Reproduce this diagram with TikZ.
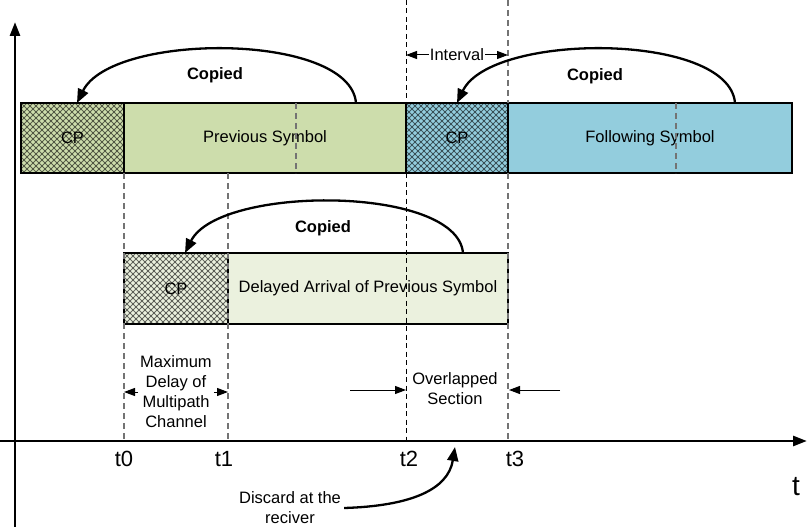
\documentclass[tikz,border=0pt]{standalone}
\usepackage{fontspec}
\setmainfont{Liberation Sans}
\usetikzlibrary{arrows.meta}
\definecolor{prevgreen}{RGB}{205,221,172}
\definecolor{follblue}{RGB}{147,205,221}
\definecolor{delaygreen}{RGB}{235,241,222}
\begin{document}
\begin{tikzpicture}[x=1pt,y=-1pt,
  every node/.style={font=\fontsize{16.5}{20}\selectfont, inner sep=1pt},
  symbox/.style={draw=black, line width=2.9pt, minimum height=70pt, inner sep=0pt, outer sep=0pt},
  hatchline/.style={draw=black, draw opacity=0.55, line width=0.9pt},
  cpbox/.style={symbox, path picture={
     \foreach \k in {-16,...,34}{
       \draw[hatchline] ([xshift=\k*6pt]path picture bounding box.north west) -- ++(90pt,-90pt);
       \draw[hatchline] ([xshift=\k*6pt]path picture bounding box.north west) -- ++(-90pt,-90pt);
     }}},
  copiedlbl/.style={font=\bfseries\fontsize{16.5}{20}\selectfont},
  copyarc/.style={line width=2.3pt, -{Triangle[length=14pt,width=11pt]}},
  axis/.style={line width=2.8pt, -{Triangle[length=14pt,width=10pt]}},
  gdash/.style={draw=black!55, line width=1.2pt, dash pattern=on 6pt off 4pt},
  bdash/.style={draw=black, line width=0.9pt, dash pattern=on 5pt off 3.5pt},
  dimarrow/.style={line width=1pt, -{Triangle[length=11pt,width=8pt]}},
  ticklbl/.style={font=\fontsize{22}{24}\selectfont},
]
\useasboundingbox (0,0) rectangle (807,527);

% axes
\coordinate (xs) at (0,441);
\coordinate (xe) at (807,441);
\coordinate (ys) at (15,527);
\coordinate (ye) at (15,22);
\draw[axis] (xs) -- (xe);
\draw[axis] (ys) -- (ye);

% time instants on the axis
\coordinate (t0) at (124,441);
\coordinate (t1) at (228,441);
\coordinate (t2) at (406,441);
\coordinate (t3) at (508,441);

% transmitted symbols
\node[cpbox, fill=prevgreen, minimum width=103pt] (cp1) at (72.5,138) {CP};
\node[symbox, fill=prevgreen, minimum width=282pt] (prev) at (265,138) {Previous Symbol};
\node[cpbox, fill=follblue, minimum width=102pt] (cp2) at (457,138) {CP};
\node[symbox, fill=follblue, minimum width=284pt] (foll) at (650,138) {Following Symbol};

% delayed copy
\node[cpbox, fill=delaygreen, minimum width=104pt, minimum height=71pt] (cp3) at (176,288.5) {CP};
\node[symbox, fill=delaygreen, minimum width=280pt, minimum height=71pt] (del) at (368,288.5) {Delayed Arrival of Previous Symbol};

% dashed marks inside the symbols
\coordinate (pm1) at (296,103); \coordinate (pm2) at (296,173);
\coordinate (fm1) at (676,103); \coordinate (fm2) at (676,173);
\draw[gdash] (pm1) -- (pm2);
\draw[gdash] (fm1) -- (fm2);

% time guides
\coordinate (t1top) at (228,173);
\coordinate (t2top) at (406,0);
\coordinate (t2a) at (406,103);
\coordinate (t2b) at (406,173);
\coordinate (t3top) at (508,0);
\coordinate (t3a) at (508,103);
\coordinate (t3b) at (508,173);
\draw[gdash] (prev.south west) -- (t0);
\draw[gdash] (t1top) -- (t1);
\draw[bdash] (t2top) -- (t2a);
\draw[bdash] (t2b) -- (t2);
\draw[gdash] (t3top) -- (t3a);
\draw[gdash] (t3b) -- (t3);

% copy arcs
\coordinate (c1s) at (356,103); \coordinate (c1e) at (77,103);
\coordinate (c2s) at (735,103); \coordinate (c2e) at (457,103);
\coordinate (c3s) at (463,253); \coordinate (c3e) at (185,253);
\draw[copyarc] (c1s) .. controls (350,32) and (112,32) .. (c1e);
\draw[copyarc] (c2s) .. controls (729,32) and (491,32) .. (c2e);
\draw[copyarc] (c3s) .. controls (457,185) and (219,185) .. (c3e);
\node[copiedlbl] (cl1) at (215,75) {Copied};
\node[copiedlbl] (cl2) at (595,76) {Copied};
\node[copiedlbl] (cl3) at (323,228) {Copied};

% interval
\node (intv) at (457,55) {Interval};
\coordinate (iL) at (406,55);
\coordinate (iR) at (508,55);
\draw[dimarrow] (intv.west) -- (iL);
\draw[dimarrow] (intv.east) -- (iR);

% maximum delay
\node[align=center, inner sep=2pt] (mdel) at (176,392) {Maximum\\Delay of\\Multipath\\Channel};
\coordinate (mL) at (124,392);
\coordinate (mR) at (228,392);
\draw[dimarrow] (mdel.west) -- (mL);
\draw[dimarrow] (mdel.east) -- (mR);

% overlapped section
\node[align=center] (ovl) at (455,389) {Overlapped\\Section};
\coordinate (oLs) at (350,390); \coordinate (oLe) at (406,390);
\coordinate (oRs) at (560,390); \coordinate (oRe) at (509,390);
\draw[dimarrow] (oLs) -- (oLe);
\draw[dimarrow] (oRs) -- (oRe);

% tick labels
\node[ticklbl] (l0) at (124,459) {t0};
\node[ticklbl] (l1) at (224,459) {t1};
\node[ticklbl] (l2) at (409,459) {t2};
\node[ticklbl] (l3) at (515,459) {t3};
\node[font=\fontsize{28}{30}\selectfont] (lt) at (796,487) {t};

% discard note
\node[align=center, inner sep=3pt] (disc) at (290,508) {Discard at the\\reciver};
\coordinate (dEnd) at (455,447);
\draw[copyarc] (disc.east) .. controls (410,506) and (448,490) .. (dEnd);
\end{tikzpicture}
\end{document}
